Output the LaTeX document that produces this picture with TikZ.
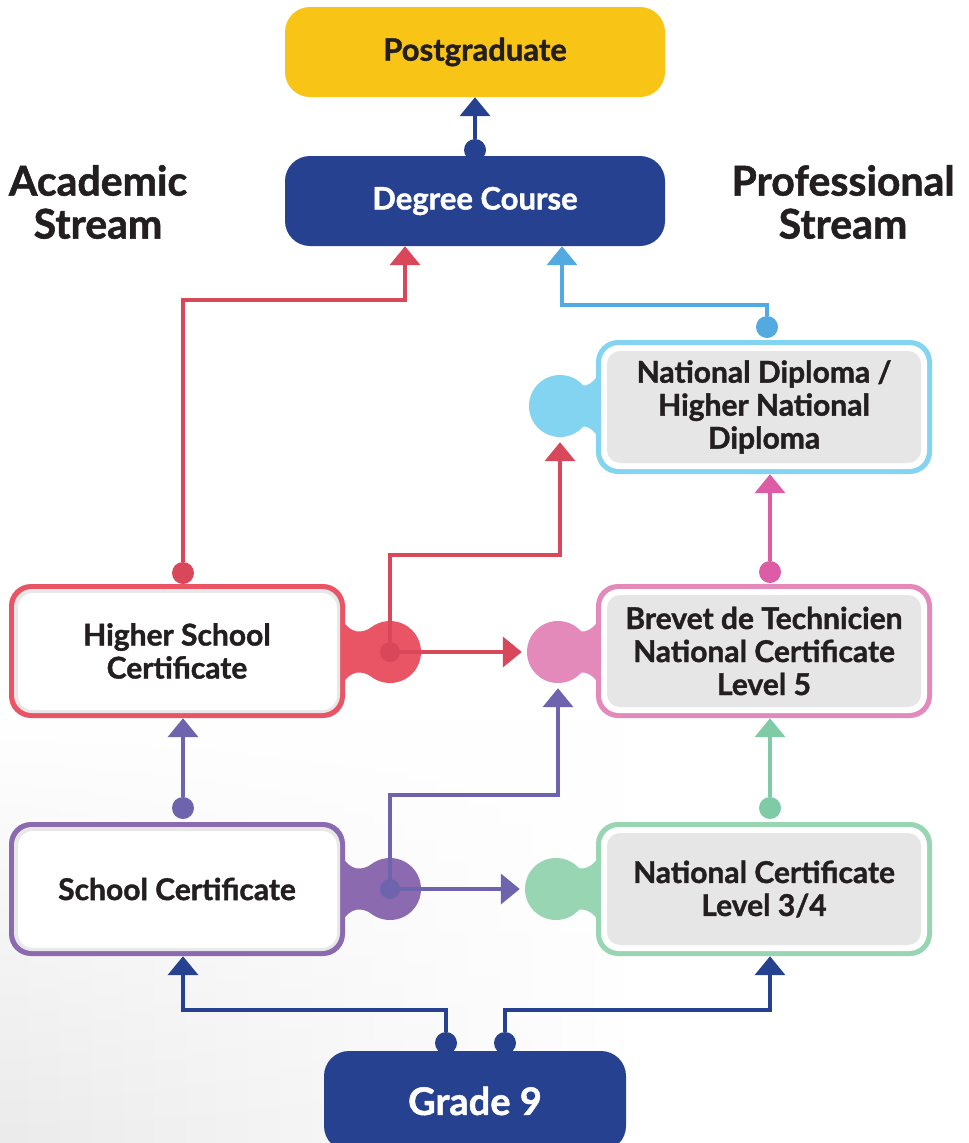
\documentclass[tikz,border=0pt]{standalone}
\usepackage{fontspec}
\setmainfont{Lato}[BoldFeatures={FakeBold=1.3}]
\usepackage{tikz}
\usetikzlibrary{arrows.meta,fadings}

\definecolor{gold}{HTML}{F8C416}
\definecolor{navy}{HTML}{26418F}
\definecolor{hscred}{HTML}{EA5566}
\definecolor{redln}{HTML}{D9475A}
\definecolor{ndblue}{HTML}{82D4F1}
\definecolor{blueln}{HTML}{52AAE0}
\definecolor{btpink}{HTML}{E48ABB}
\definecolor{pinkln}{HTML}{DC5DA6}
\definecolor{ncgreen}{HTML}{98D6B3}
\definecolor{greenln}{HTML}{7FCBA6}
\definecolor{scpurple}{HTML}{8B6AAF}
\definecolor{purpleln}{HTML}{6E64AE}
\definecolor{ink}{HTML}{231F20}
\definecolor{panel}{HTML}{E6E6E6}

\begin{document}
\begin{tikzpicture}[x=1pt, y=-1pt]

  %Styles for picture
  \tikzset
  {
  topbox/.style={rectangle, rounded corners=25pt, inner sep=0pt, minimum width=380pt, minimum height=90pt, font=\fontsize{31}{36}\selectfont\bfseries},
  leftbox/.style={rectangle, rounded corners=22pt, inner sep=0pt, minimum width=336pt, minimum height=134pt, fill=#1, text=ink, align=center, font=\fontsize{30}{33}\selectfont\bfseries,
    path picture={
      \fill[black!9, rounded corners=18pt] ([shift={(5pt,5pt)}]path picture bounding box.south west) rectangle ([shift={(-5pt,-5pt)}]path picture bounding box.north east);
      \fill[white, rounded corners=15pt] ([shift={(9pt,8pt)}]path picture bounding box.south west) rectangle ([shift={(-8pt,-9pt)}]path picture bounding box.north east);
    }},
  rightbox/.style={rectangle, rounded corners=22pt, inner sep=0pt, minimum width=336pt, minimum height=134pt, fill=#1, text=ink, align=center, font=\fontsize{30}{33}\selectfont\bfseries,
    path picture={
      \fill[white, rounded corners=18pt] ([shift={(5pt,5pt)}]path picture bounding box.south west) rectangle ([shift={(-5pt,-5pt)}]path picture bounding box.north east);
      \fill[panel, rounded corners=13pt] ([shift={(11pt,11pt)}]path picture bounding box.south west) rectangle ([shift={(-11pt,-11pt)}]path picture bounding box.north east);
    }},
  knob/.style={circle, inner sep=0pt, minimum size=62pt, fill=#1},
  dot/.style={circle, inner sep=0pt, minimum size=22pt, fill=#1},
  pin/.style={circle, inner sep=0pt, minimum size=20pt, fill=#1},
  stream/.style={align=center, text=ink, font=\fontsize{41}{43}\selectfont\bfseries},
  link/.style={line width=4pt, -{Triangle[width=30pt,length=19pt]}, draw=#1},
  }

  \useasboundingbox (0,0) rectangle (969,1143);
  \fill[white] (0,0) rectangle (969,1143);
  \shade[left color=black!8, right color=white, path fading=north] (0,720) rectangle (640,1143);

  % Headings
  \node[stream] (academic) at (98,202) {Academic\\Stream};
  \node[stream] (professional) at (843,202) {Professional\\Stream};

  % Knobs
  \foreach \cy/\col in {652/hscred, 889/scpurple}
    \fill[\col] (342,\cy-33) .. controls (350,\cy-18) and (362,\cy-18) .. (372,\cy-25) -- (372,\cy+25) .. controls (362,\cy+18) and (350,\cy+18) .. (342,\cy+33) -- cycle;
  \foreach \cx/\cy/\col in {560/406/ndblue, 558/652/btpink, 556/889/ncgreen}
    \fill[\col] (599,\cy-33) .. controls (591,\cy-18) and (\cx+21,\cy-18) .. (\cx+12,\cy-25) -- (\cx+12,\cy+25) .. controls (\cx+21,\cy+18) and (591,\cy+18) .. (599,\cy+33) -- cycle;
  \node[knob=hscred] (hscknob) at (390,652) {};
  \node[knob=scpurple] (scknob) at (390,889) {};
  \node[knob=ndblue] (ndknob) at (560,406) {};
  \node[knob=btpink] (btknob) at (558,652) {};
  \node[knob=ncgreen] (ncknob) at (556,889) {};

  % Boxes
  \node[topbox, fill=gold, text=ink] (post) at (475,52) {Postgraduate};
  \node[topbox, fill=navy, text=white] (degree) at (475,201) {Degree Course};
  \node[topbox, fill=navy, text=white, minimum width=302pt, minimum height=100pt, font=\fontsize{38}{42}\selectfont\bfseries] (grade) at (475,1101) {Grade 9};
  \node[leftbox=hscred] (hsc) at (177,651) {Higher School\\Certificate};
  \node[leftbox=scpurple] (sc) at (177,889) {School Certificate};
  \node[rightbox=ndblue] (nd) at (764,407) {National Diploma /\\Higher National\\Diploma};
  \node[rightbox=btpink] (bt) at (764,651) {Brevet de Technicien\\National Certificate\\Level 5};
  \node[rightbox=ncgreen] (nc) at (764,889) {National Certificate\\Level 3/4};

  % Dots
  \node[dot=navy] (degdot) at (475,150) {};
  \node[dot=redln] (hscdot) at (183,573) {};
  \node[dot=purpleln] (scdot) at (183,808) {};
  \node[dot=blueln] (nddot) at (767,327) {};
  \node[dot=pinkln] (btdot) at (770,572) {};
  \node[dot=greenln] (ncdot) at (770,808) {};
  \node[dot=navy] (gldot) at (446,1043) {};
  \node[dot=navy] (grdot) at (505,1043) {};

  % Edges
  \draw[link=navy] (degdot) -- (post.south);
  \draw[link=redln] (hscdot) -- (hscdot |- 0,300) -| (degree.south -| 405,0);
  \draw[link=blueln] (nddot) -- (nddot |- 0,305) -| (degree.south -| 562,0);
  \draw[link=redln] (hscknob.center) -- (hscknob |- 0,555) -| ([yshift=-5pt]ndknob.south);
  \draw[link=redln] (hscknob.center) -- ([xshift=-5pt]btknob.west);
  \draw[link=purpleln] (scknob.center) -- (scknob |- 0,795) -| ([yshift=-5pt]btknob.south);
  \draw[link=purpleln] (scknob.center) -- ([xshift=-5pt]ncknob.west);
  \draw[link=purpleln] (scdot) -- (scdot |- hsc.south);
  \draw[link=greenln] (ncdot) -- (ncdot |- bt.south);
  \draw[link=pinkln] (btdot) -- (btdot |- nd.south);
  \draw[link=navy] (gldot) -- (gldot |- 0,1010) -| (scdot |- sc.south);
  \draw[link=navy] (grdot) -- (grdot |- 0,1010) -| (ncdot |- nc.south);

  % Pins on top of the knobs
  \node[pin=redln] (hscpin) at (390,652) {};
  \node[pin=purpleln] (scpin) at (390,889) {};
\end{tikzpicture}
\end{document}
